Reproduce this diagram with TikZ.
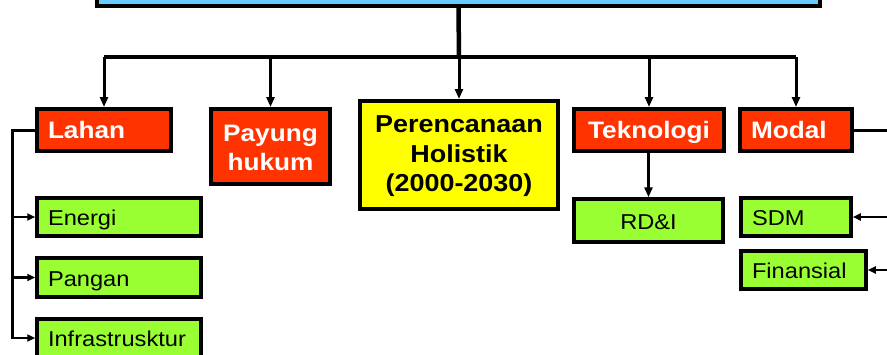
\documentclass[tikz,border=0pt]{standalone}
\usepackage{fontspec}
\setmainfont{Liberation Sans}[FakeStretch=1.1]
\usetikzlibrary{arrows.meta,calc}
\definecolor{cred}{HTML}{FF3300}
\definecolor{cgreen}{HTML}{99FF33}
\definecolor{cyel}{HTML}{FFFF00}
\definecolor{cblue}{HTML}{66CCFF}
\tikzset{
  redbox/.style={draw=black,line width=4pt,fill=cred,text=white,font=\fontsize{23.8}{29}\selectfont\bfseries,inner xsep=11pt,inner ysep=0pt,text height=17pt,text depth=0pt},
  greenbox/.style={draw=black,line width=3.5pt,fill=cgreen,text=black,font=\fontsize{21.5}{26}\selectfont,inner xsep=11pt,inner ysep=0pt,text height=17.5pt,text depth=0pt},
  yelbox/.style={draw=black,line width=4pt,fill=cyel,text=black,font=\fontsize{24.5}{29.5}\selectfont\bfseries,align=center,inner sep=0pt,text height=73.5pt,text depth=0pt},
  bluebox/.style={draw=black,line width=4pt,fill=cblue},
  trunk/.style={line width=4.5pt},
  conn/.style={line width=3pt},
  arr/.style={line width=3pt,-{Triangle[length=10pt,width=8pt]}},
  sarr/.style={line width=2.8pt,-{Triangle[length=8pt,width=7pt]}}
}
\begin{document}
\begin{tikzpicture}[x=1pt,y=-1pt]
\useasboundingbox (0,0) rectangle (887,354);
\clip (0,0) rectangle (887,354);
% top box
\node[bluebox,minimum width=723pt,minimum height=46pt] (top) at (458.5,-17) {};
% level 1
\node[redbox,minimum width=134pt,minimum height=42pt,text width=112pt,align=left] (lahan) at (104,130) {Lahan};
\node[redbox,minimum width=119pt,minimum height=75pt,align=center,inner sep=0pt,text height=48.4pt] (payung) at (270.5,146.5) {Payung\\hukum};
\node[yelbox,minimum width=198pt,minimum height=108pt] (holistik) at (459,155) {Perencanaan\\Holistik\\(2000-2030)};
\node[redbox,minimum width=150pt,minimum height=42pt,text width=128pt,align=center] (tekno) at (649,130) {Teknologi};
\node[redbox,minimum width=112pt,minimum height=42pt,text width=90pt,align=left] (modal) at (796,130) {Modal};
% level 2
\node[greenbox,minimum width=164pt,minimum height=38pt,text width=142pt,align=left] (energi) at (119,217) {Energi};
\node[greenbox,minimum width=164pt,minimum height=39pt,text width=142pt,align=left] (pangan) at (119,277.5) {Pangan};
\node[greenbox,minimum width=164pt,minimum height=38pt,text width=142pt,align=left] (infra) at (119,338) {Infrastrusktur};
\node[greenbox,minimum width=149pt,minimum height=43pt,text width=127pt,align=center] (rdi) at (648.5,220.5) {RD\&I};
\node[greenbox,minimum width=110pt,minimum height=38pt,text width=88pt,align=left] (sdm) at (796,217) {SDM};
\node[greenbox,minimum width=125pt,minimum height=38pt,text width=103pt,align=left] (fin) at (803.5,270) {Finansial};
% trunk and bus
\coordinate (bus) at (459,57);
\draw[trunk] (top.south) -- (bus);
\draw[trunk] (bus -| lahan.north) -- (bus -| modal.north);
\draw[arr] (bus -| lahan.north) -- (lahan.north);
\draw[arr] (bus -| payung.north) -- (payung.north);
\draw[arr] (bus) -- (holistik.north);
\draw[arr] (bus -| tekno.north) -- (tekno.north);
\draw[arr] (bus -| modal.north) -- (modal.north);
% Lahan branch
\coordinate (lv) at (12,130);
\draw[conn] (lahan.west) -- (lv) -- (lv |- infra.west);
\draw[sarr] (lv |- energi.west) -- (energi.west);
\draw[sarr] (lv |- pangan.west) -- (pangan.west);
\draw[sarr] ([xshift=-1.5pt]lv |- infra.west) -- (infra.west);
% Teknologi branch
\draw[arr] (tekno.south -| rdi.north) -- (rdi.north);
% Modal branch
\coordinate (rv) at (893,130);
\draw[conn] (modal.east) -- (rv) -- (rv |- fin.east);
\draw[sarr] (rv |- sdm.east) -- (sdm.east);
\draw[sarr] (rv |- fin.east) -- (fin.east);
\end{tikzpicture}
\end{document}
